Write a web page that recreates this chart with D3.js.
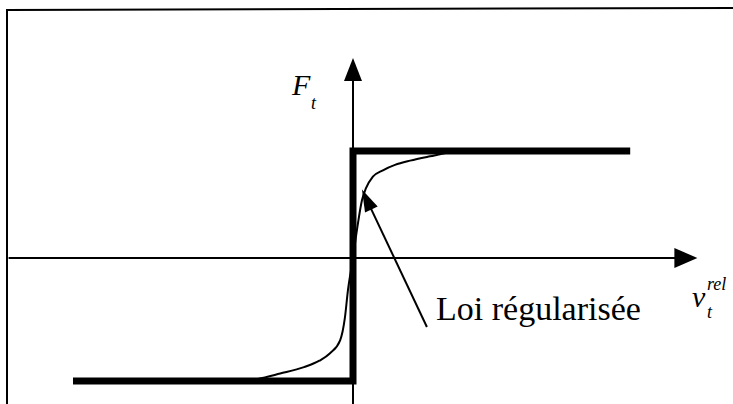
<!DOCTYPE html>
<html>
<head>
<meta charset="utf-8">
<script src="https://cdn.jsdelivr.net/npm/d3@7"></script>
<style>
  html, body { margin: 0; padding: 0; background: #fff; }
  svg { display: block; }
</style>
</head>
<body>
<div id="chart"></div>
<script>
// Coulomb friction law (step) and its regularised version
const stepV = [-1.0, 0, 0, 0.99];
const stepF = [-1.15, -1.15, 1, 1];

const regV = [-0.42, -0.34, -0.26, -0.175, -0.12, -0.082, -0.046, -0.029, -0.018, 0,
              0.014, 0.032, 0.046, 0.071, 0.107, 0.15, 0.204, 0.275, 0.357, 0.42];
const regF = [-1.15, -1.13, -1.08, -1.02, -0.96, -0.89, -0.77, -0.56, -0.30, 0,
              0.26, 0.54, 0.65, 0.76, 0.82, 0.87, 0.91, 0.95, 0.99, 1.0];

const axisV = [-1.23, 1.23];
const axisF = [-1.37, 1.87];

// annotation arrow: from label to the curve
const noteV = [0.264, 0.032];
const noteF = [-0.645, 0.64];

const SERIF = '"Liberation Serif", Tinos, "Times New Roman", Times, "Nimbus Roman", "Noto Serif", "DejaVu Serif", FreeSerif, serif';

class Render {
    constructor(divId, width, height) {
        this.svg = d3.select('#' + divId).append("svg")
            .attr("width", width)
            .attr("height", height);
        this.svg.append("rect").attr("width", width).attr("height", height).attr("fill", "#fff");
        this.x = d3.scaleLinear().domain([-1, 1]).range([73, 633]);
        this.y = d3.scaleLinear().domain([-1, 1]).range([365, 151]);
    }

    drawFrame() {
        this.svg.append("path")
            .attr("d", "M7,404 L7,10 L733,8")
            .attr("fill", "none").attr("stroke", "#000").attr("stroke-width", 2);
    }

    arrowHead(x, y, angle, len, half) {
        const pts = [[0, 0], [-len, -half], [-len, half]];
        this.svg.append("polygon")
            .attr("points", pts.map(p => p.join(",")).join(" "))
            .attr("transform", `translate(${x},${y}) rotate(${angle})`)
            .attr("fill", "#000");
    }

    drawAxes() {
        const x = this.x, y = this.y;
        this.svg.append("line")
            .attr("x1", x(axisV[0])).attr("x2", x(axisV[1]) - 10)
            .attr("y1", y(0)).attr("y2", y(0))
            .attr("stroke", "#000").attr("stroke-width", 2);
        this.arrowHead(x(axisV[1]), y(0), 0, 23, 10);
        this.svg.append("line")
            .attr("x1", x(0)).attr("x2", x(0))
            .attr("y1", y(axisF[0])).attr("y2", y(axisF[1]) + 10)
            .attr("stroke", "#000").attr("stroke-width", 2);
        this.arrowHead(x(0), y(axisF[1]), -90, 23, 9);
    }

    drawCurves() {
        const x = this.x, y = this.y;
        const line = d3.line().x(d => x(d[0])).y(d => y(d[1]));
        this.svg.append("path")
            .attr("d", line(d3.zip(stepV, stepF)))
            .attr("fill", "none").attr("stroke", "#000")
            .attr("stroke-width", 7).attr("stroke-linejoin", "miter");
        const smooth = d3.line().x(d => x(d[0])).y(d => y(d[1])).curve(d3.curveMonotoneX);
        this.svg.append("path")
            .attr("d", smooth(d3.zip(regV, regF)))
            .attr("fill", "none").attr("stroke", "#000").attr("stroke-width", 2);
    }

    drawNote() {
        const x = this.x, y = this.y;
        const x1 = x(noteV[0]), y1 = y(noteF[0]), x2 = x(noteV[1]), y2 = y(noteF[1]);
        const ang = Math.atan2(y2 - y1, x2 - x1);
        this.svg.append("line")
            .attr("x1", x1).attr("y1", y1)
            .attr("x2", x2 - 15 * Math.cos(ang)).attr("y2", y2 - 15 * Math.sin(ang))
            .attr("stroke", "#000").attr("stroke-width", 2);
        this.arrowHead(x2, y2, ang * 180 / Math.PI, 22, 7);
    }

    label(x, y, size, italic, txt) {
        return this.svg.append("text")
            .attr("x", x).attr("y", y)
            .attr("font-family", SERIF)
            .attr("font-size", size)
            .attr("font-style", italic ? "italic" : "normal")
            .attr("fill", "#000")
            .text(txt);
    }

    drawLabels() {
        this.label(292, 95, 30, true, "F");
        this.label(311, 109, 18, true, "t");

        this.label(436, 320, 34, false, "Loi régularisée");

        this.label(692, 307, 30, true, "v");
        this.label(707, 318, 18, true, "t");
        this.label(707, 290, 18, true, "rel");
    }
}

const r = new Render("chart", 733, 404);
r.drawFrame();
r.drawAxes();
r.drawCurves();
r.drawNote();
r.drawLabels();
</script>
</body>
</html>
